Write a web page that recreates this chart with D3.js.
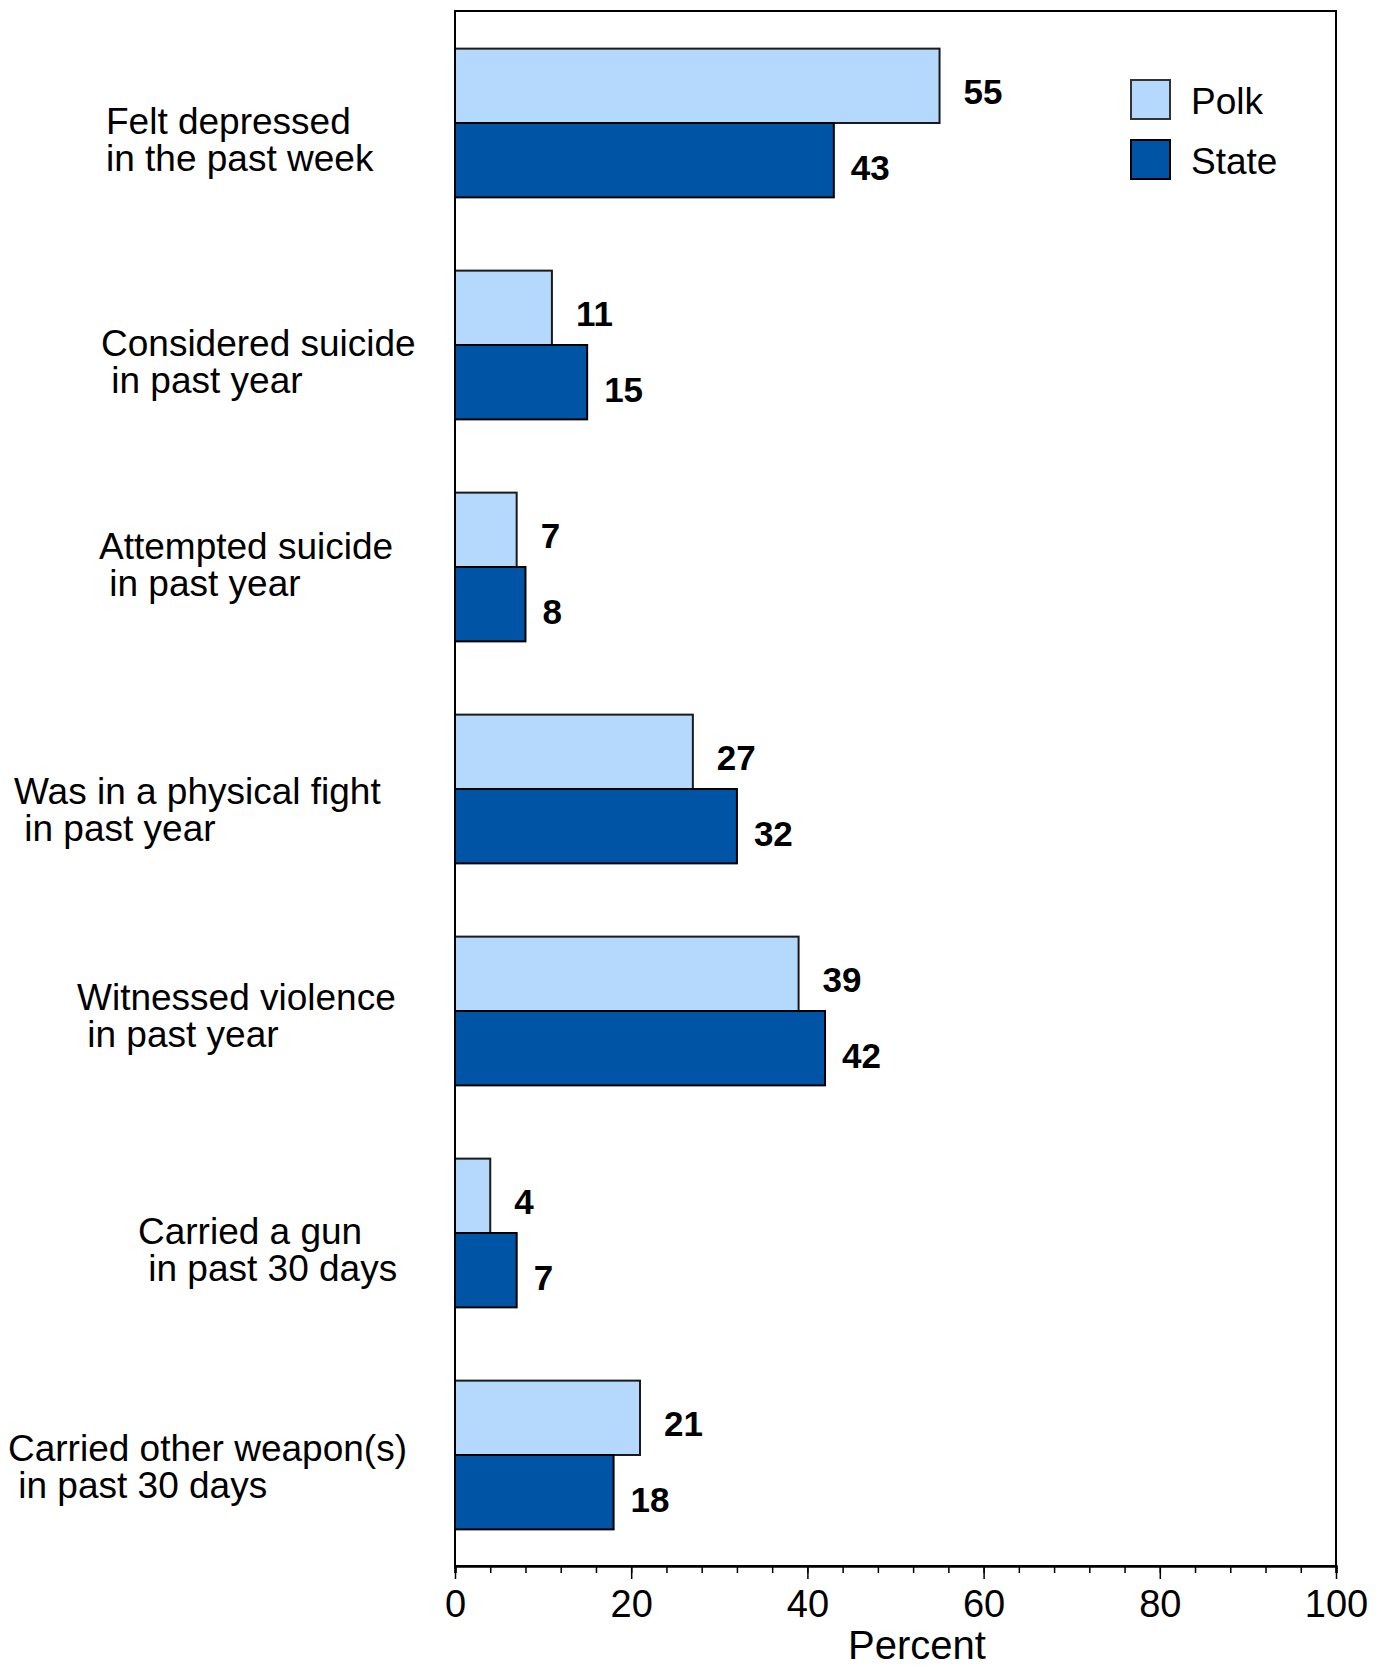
<!DOCTYPE html>
<html><head><meta charset="utf-8">
<script src="https://cdn.jsdelivr.net/npm/d3@7"></script>
<style>
html,body{margin:0;padding:0;background:#fff;}
svg text{font-family:"Liberation Sans",Arial,sans-serif;fill:#000;}
</style></head>
<body><svg id="chart" width="1382" height="1668"></svg>
<script>
// ---- data ----
const categories = [
  "Felt depressed|in the past week",
  "Considered suicide| in past year",
  "Attempted suicide| in past year",
  "Was in a physical fight| in past year",
  "Witnessed violence| in past year",
  "Carried a gun| in past 30 days",
  "Carried other weapon(s)| in past 30 days"
];
const polk  = [55, 11, 7, 27, 39, 4, 21];
const state = [43, 15, 8, 32, 42, 7, 18];
const seriesNames = ["Polk", "State"];
const xTicks = [0, 20, 40, 60, 80, 100];
const xTitle = "Percent";

// ---- layout (not data) ----
const labelX  = [106, 101, 99, 14, 77, 138, 8];
const labelDy = [11, 11, -8, 15, -1, 11, 6];
const colors = ["#b4d9fc", "#0054a6"];

const svg = d3.select("#chart");
const L = 455, R = 1336, T = 11, B = 1566;

const x = d3.scaleLinear().domain([0, 100]).range([L, R]);
const y = d3.scaleBand().domain(categories).range([T + 1, B]).paddingInner(0.33).paddingOuter(0.165);
const yS = d3.scaleBand().domain(seriesNames).range([0, y.bandwidth()]);

const rows = categories.map((c, i) => ({c, i, vals: [polk[i], state[i]]}));

// bars
const g = svg.append("g");
rows.forEach(r => {
  r.vals.forEach((v, k) => {
    g.append("rect")
      .attr("x", x(0))
      .attr("y", y(r.c) + yS(seriesNames[k]))
      .attr("width", x(v) - x(0))
      .attr("height", yS.bandwidth())
      .attr("fill", colors[k])
      .attr("stroke", k === 0 ? "#1a1a1a" : "#000")
      .attr("stroke-width", 2);
    g.append("text")
      .attr("x", x(v) + (k === 0 ? 24 : 17))
      .attr("y", y(r.c) + yS(seriesNames[k]) + yS.bandwidth() / 2 + (k === 0 ? 18 : 20))
      .attr("font-size", 35)
      .attr("font-weight", "bold")
      .text(v);
  });
  // category label
  const lines = r.c.split("|");
  const cy = y(r.c) + y.bandwidth() / 2 + labelDy[r.i];
  const t = svg.append("text").attr("font-size", 37).attr("xml:space", "preserve");
  lines.forEach((ln, j) => {
    t.append("tspan").attr("x", labelX[r.i]).attr("y", cy + j * 36.6).text(ln.replace(/^ /, "\u00a0"));
  });
});

// frame
svg.append("rect").attr("x", L).attr("y", T).attr("width", R - L).attr("height", B - T)
  .attr("fill", "none").attr("stroke", "#000").attr("stroke-width", 2);

// x axis
const ax = svg.append("g").attr("transform", `translate(0,${B})`)
  .call(d3.axisBottom(x).tickValues(d3.range(0, 101, 4)).tickSize(7).tickFormat(""));
ax.select(".domain").attr("stroke-width", 2.5);
ax.selectAll(".tick line").attr("stroke-width", 1.5);
const ax2 = svg.append("g").attr("transform", `translate(0,${B})`)
  .call(d3.axisBottom(x).tickValues(xTicks).tickSize(13).tickPadding(0).tickFormat(d3.format("d")));
ax2.select(".domain").remove();
ax2.selectAll(".tick line").attr("stroke-width", 1.5);
ax2.selectAll(".tick text").attr("font-size", 38).attr("font-family", "Liberation Sans, Arial, sans-serif")
  .attr("fill", "#000").attr("y", 0).attr("dy", 0).attr("transform", "translate(0,51)");

svg.append("text").attr("x", 917).attr("y", 1659).attr("text-anchor", "middle")
  .attr("font-size", 40).text(xTitle);

// legend
const lg = svg.append("g");
seriesNames.forEach((s, k) => {
  lg.append("rect").attr("x", 1131).attr("y", 80 + k * 60).attr("width", 39).attr("height", 39)
    .attr("fill", colors[k]).attr("stroke", k === 0 ? "#333" : "#000").attr("stroke-width", 2);
  lg.append("text").attr("x", 1191).attr("y", 114 + k * 60).attr("font-size", 37).text(s);
});
</script></body></html>
